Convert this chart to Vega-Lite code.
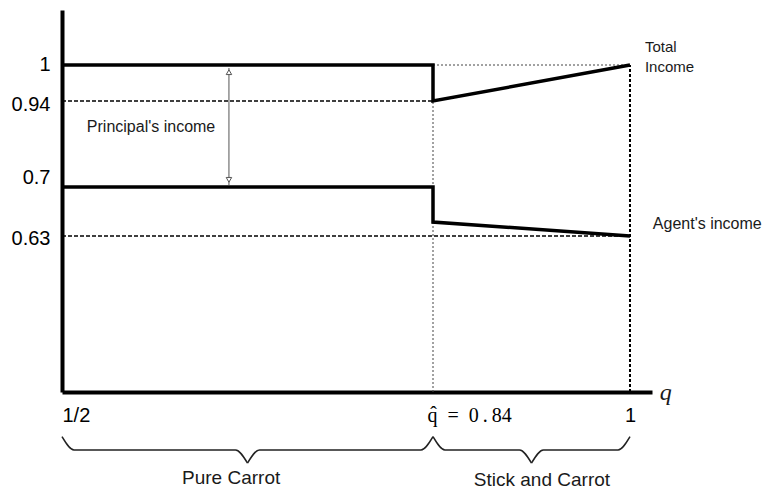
{
  "$schema": "https://vega.github.io/schema/vega-lite/v6.json",
  "width": 590,
  "height": 382,
  "autosize": {"type": "none"},
  "padding": {"left": 62, "top": 10, "right": 114, "bottom": 97},
  "background": "white",
  "config": {"view": {"stroke": null}, "font": "Liberation Sans"},
  "layer": [
    {
      "data": {"values": [
        {"q": 0.5, "q2": 0.84, "v": 0.94, "v2": 0.94},
        {"q": 0.5, "q2": 1, "v": 0.63, "v2": 0.63}
      ]},
      "mark": {"type": "rule", "color": "black", "strokeWidth": 1.5, "strokeDash": [4, 2]},
      "encoding": {
        "x": {"field": "q", "type": "quantitative", "scale": {"type": "linear", "domain": [0.5, 0.84, 1, 1.018], "range": [0, 371, 568, 590], "nice": false, "zero": false},
          "axis": {"values": [0.5, 0.84, 1], "title": null, "ticks": false, "grid": false, "domainColor": "black", "domainWidth": 4, "labelFontSize": 20, "labelColor": "black", "labelPadding": 23, "labelBaseline": "middle", "labelFlush": false, "labelOverlap": false, "labelBound": false,
            "labelExpr": "datum.value == 0.5 ? '1/2' : datum.value == 1 ? '1' : 'q\u0302\u2002=\u20020\u2009.\u200984'",
            "labelFont": {"condition": {"test": "datum.value == 0.84", "value": "Liberation Serif"}, "value": "Liberation Sans"},
            "labelAlign": {"condition": {"test": "datum.value == 1", "value": "center"}, "value": "left"},
            "labelOffset": {"condition": {"test": "datum.value == 0.84", "value": -6}, "value": 0}}},
        "x2": {"field": "q2"},
        "y": {"field": "v", "type": "quantitative", "scale": {"type": "linear", "domain": [0, 0.63, 0.7, 0.94, 1, 1.092], "range": [382, 226, 177, 91, 55, 0], "nice": false, "zero": false},
          "axis": {"values": [0.63, 0.7, 0.94, 1], "title": null, "ticks": false, "grid": false, "domainColor": "black", "domainWidth": 4, "labelFontSize": 20, "labelColor": "black", "labelPadding": 12, "labelOverlap": false, "labelBound": false,
            "labelExpr": "datum.value == 1 ? '1' : datum.value == 0.7 ? '0.7' : datum.value == 0.94 ? '0.94' : '0.63'",
            "labelOffset": {"condition": [{"test": "datum.value == 0.7", "value": -10}, {"test": "datum.value == 0.94", "value": 3}, {"test": "datum.value == 0.63", "value": 2}], "value": -1}}},
        "y2": {"field": "v2"}
      }
    },
    {
      "data": {"values": [
        {"q": 0.84, "q2": 1, "v": 1, "v2": 1},
        {"q": 0.84, "q2": 0.84, "v": 0, "v2": 0.94}
      ]},
      "mark": {"type": "rule", "color": "#444", "strokeWidth": 1, "strokeDash": [2, 2]},
      "encoding": {
        "x": {"field": "q", "type": "quantitative"},
        "x2": {"field": "q2"},
        "y": {"field": "v", "type": "quantitative"},
        "y2": {"field": "v2"}
      }
    },
    {
      "data": {"values": [{"q": 1, "v": 0, "v2": 1}]},
      "mark": {"type": "rule", "color": "black", "strokeWidth": 2, "strokeDash": [3, 2]},
      "encoding": {
        "x": {"field": "q", "type": "quantitative"},
        "y": {"field": "v", "type": "quantitative"},
        "y2": {"field": "v2"}
      }
    },
    {
      "data": {"values": [
        {"s": "Total", "i": 0, "q": 0.5, "v": 1},
        {"s": "Total", "i": 1, "q": 0.84, "v": 1},
        {"s": "Total", "i": 2, "q": 0.84, "v": 0.94},
        {"s": "Total", "i": 3, "q": 1, "v": 1},
        {"s": "Agent", "i": 0, "q": 0.5, "v": 0.7},
        {"s": "Agent", "i": 1, "q": 0.84, "v": 0.7},
        {"s": "Agent", "i": 2, "q": 0.84, "v": 0.65},
        {"s": "Agent", "i": 3, "q": 1, "v": 0.63}
      ]},
      "mark": {"type": "line", "color": "black", "strokeWidth": 3.5, "strokeJoin": "miter", "strokeCap": "butt"},
      "encoding": {
        "x": {"field": "q", "type": "quantitative"},
        "y": {"field": "v", "type": "quantitative"},
        "detail": {"field": "s"},
        "order": {"field": "i"}
      }
    },
    {
      "data": {"values": [{"q": 0.653, "v": 0.705, "v2": 0.995}]},
      "mark": {"type": "rule", "color": "#555", "strokeWidth": 1},
      "encoding": {
        "x": {"field": "q", "type": "quantitative"},
        "y": {"field": "v", "type": "quantitative"},
        "y2": {"field": "v2"}
      }
    },
    {
      "data": {"values": [
        {"q": 0.653, "v": 0.988, "shape": "triangle-up"},
        {"q": 0.653, "v": 0.72, "shape": "triangle-down"}
      ]},
      "mark": {"type": "point", "filled": true, "fill": "white", "stroke": "#555", "strokeWidth": 1, "size": 30, "opacity": 1},
      "encoding": {
        "x": {"field": "q", "type": "quantitative"},
        "y": {"field": "v", "type": "quantitative"},
        "shape": {"field": "shape", "type": "nominal", "scale": null, "legend": null}
      }
    },
    {
      "data": {"values": [
        {"b": "1a", "i": 0, "q": 0.5, "v": -0.18},
        {"b": "1a", "i": 1, "q": 0.511, "v": -0.234},
        {"b": "1a", "i": 2, "q": 0.659, "v": -0.234},
        {"b": "1a", "i": 3, "q": 0.67, "v": -0.287},
        {"b": "1b", "i": 0, "q": 0.67, "v": -0.287},
        {"b": "1b", "i": 1, "q": 0.681, "v": -0.234},
        {"b": "1b", "i": 2, "q": 0.829, "v": -0.234},
        {"b": "1b", "i": 3, "q": 0.84, "v": -0.18},
        {"b": "2a", "i": 0, "q": 0.84, "v": -0.18},
        {"b": "2a", "i": 1, "q": 0.8497, "v": -0.234},
        {"b": "2a", "i": 2, "q": 0.9103, "v": -0.234},
        {"b": "2a", "i": 3, "q": 0.92, "v": -0.287},
        {"b": "2b", "i": 0, "q": 0.92, "v": -0.287},
        {"b": "2b", "i": 1, "q": 0.9297, "v": -0.234},
        {"b": "2b", "i": 2, "q": 0.9903, "v": -0.234},
        {"b": "2b", "i": 3, "q": 1, "v": -0.18}
      ]},
      "mark": {"type": "line", "color": "#222", "strokeWidth": 1.5, "interpolate": "monotone"},
      "encoding": {
        "x": {"field": "q", "type": "quantitative"},
        "y": {"field": "v", "type": "quantitative"},
        "detail": {"field": "b"},
        "order": {"field": "i"}
      }
    },
    {
      "data": {"values": [{"t": "Principal's income", "q": 0.5816, "v": 0.867}]},
      "mark": {"type": "text", "fontSize": 16, "align": "center", "baseline": "middle", "color": "#1a1a1a"},
      "encoding": {
        "x": {"field": "q", "type": "quantitative"},
        "y": {"field": "v", "type": "quantitative"},
        "text": {"field": "t"}
      }
    },
    {
      "data": {"values": [
        {"t": "Total", "q": 1.0122, "v": 1.03},
        {"t": "Income", "q": 1.0122, "v": 0.997}
      ]},
      "mark": {"type": "text", "fontSize": 15, "align": "left", "baseline": "middle", "color": "#1a1a1a"},
      "encoding": {
        "x": {"field": "q", "type": "quantitative"},
        "y": {"field": "v", "type": "quantitative"},
        "text": {"field": "t"}
      }
    },
    {
      "data": {"values": [
        {"t": "Agent's income", "q": 1.0187, "v": 0.647}
      ]},
      "mark": {"type": "text", "fontSize": 16, "align": "left", "baseline": "middle", "color": "#1a1a1a"},
      "encoding": {
        "x": {"field": "q", "type": "quantitative"},
        "y": {"field": "v", "type": "quantitative"},
        "text": {"field": "t"}
      }
    },
    {
      "data": {"values": [
        {"t": "Pure Carrot", "q": 0.655, "v": -0.347},
        {"t": "Stick and Carrot", "q": 0.9285, "v": -0.355}
      ]},
      "mark": {"type": "text", "fontSize": 19, "align": "center", "baseline": "middle", "color": "#1a1a1a"},
      "encoding": {
        "x": {"field": "q", "type": "quantitative"},
        "y": {"field": "v", "type": "quantitative"},
        "text": {"field": "t"}
      }
    },
    {
      "data": {"values": [{"t": "q", "q": 1.0244, "v": -0.032}]},
      "mark": {"type": "text", "fontSize": 24, "font": "Liberation Serif", "fontStyle": "italic", "align": "left", "baseline": "alphabetic", "color": "#1a1a1a"},
      "encoding": {
        "x": {"field": "q", "type": "quantitative"},
        "y": {"field": "v", "type": "quantitative"},
        "text": {"field": "t"}
      }
    }
  ]
}
